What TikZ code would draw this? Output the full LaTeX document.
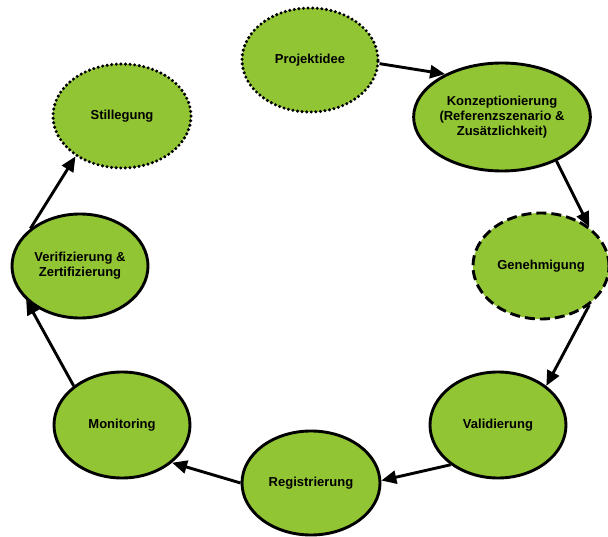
\documentclass[tikz,border=0pt]{standalone}
\usepackage{fontspec}
\setmainfont{Liberation Sans}
\usetikzlibrary{shapes.geometric,arrows.meta}
\definecolor{phasegreen}{RGB}{145,197,52}
\begin{document}
\begin{tikzpicture}
 [x=1pt,y=-1pt,line width=2.9pt,
  every node/.style={ellipse,draw,fill=phasegreen,inner sep=0pt,align=center,
    font=\fontsize{13}{15}\selectfont\bfseries,minimum width=136pt,minimum height=104pt},
  dotline/.style={line cap=round,dash pattern=on 0pt off 4.6pt,line width=3.4pt},
  dashline/.style={dash pattern=on 10pt off 5pt},
  flow/.style={-{Triangle[length=15pt,width=13pt]}}]
  \useasboundingbox (0,0) rectangle (608,537);
  \node[dotline] (idee) at (310,60) {Projektidee};
  \node (konz) at (502,117) [minimum width=138pt,minimum height=108pt]
    {Konzeptionierung\\(Referenzszenario \&\\Zusätzlichkeit)};
  \node[dashline] (gen) at (541,266) [minimum height=106pt] {Genehmigung};
  \node (val) at (498,425) [minimum height=106pt] {Validierung};
  \node (reg) at (311,483) [minimum width=138pt] {Registrierung};
  \node (mon) at (122,425) [minimum height=106pt] {Monitoring};
  \node (ver) at (80,266) [minimum width=136pt,minimum height=104pt]
    {Verifizierung \&\\Zertifizierung};
  \node[dotline] (still) at (122,116) [minimum width=138pt] {Stillegung};

  \foreach \from/\to in {idee.-3/konz.143,konz.-39/gen.39,gen.-39/val.39,
      val.220/reg.2,reg.180/mon.-37,mon.141/ver.212,ver.143/still.221}
    \draw[flow] (\from) -- (\to);
\end{tikzpicture}
\end{document}
